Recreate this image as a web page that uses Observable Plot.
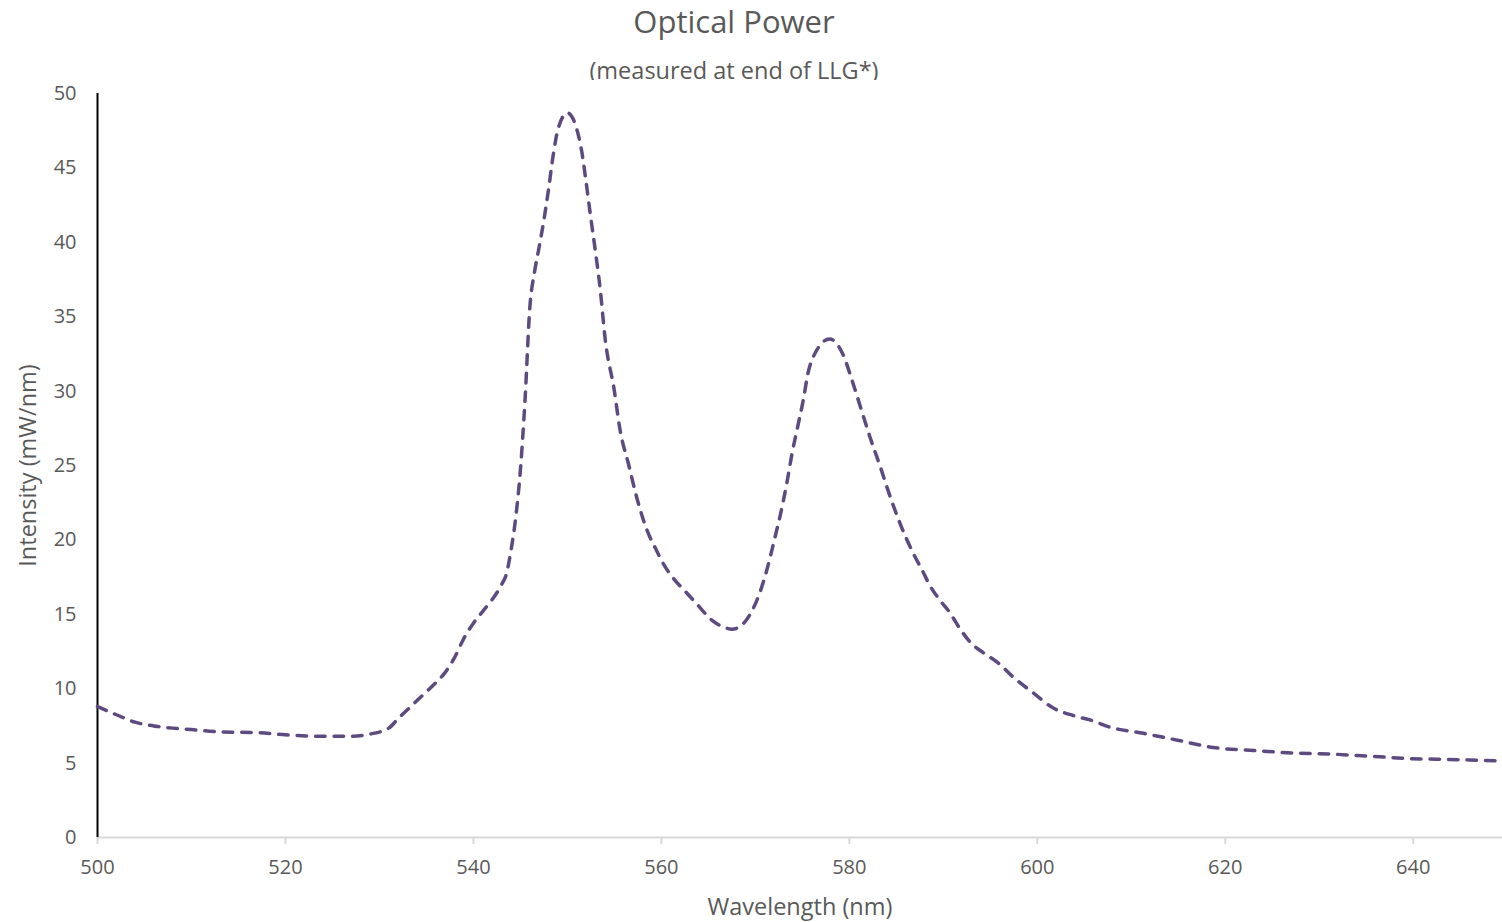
<!DOCTYPE html>
<html>
<head>
<meta charset="utf-8">
<script src="https://cdn.jsdelivr.net/npm/d3@7"></script>
<script src="https://cdn.jsdelivr.net/npm/@observablehq/plot@0.6"></script>
<style>
  html, body { margin: 0; padding: 0; background: #fff; }
  #wrap { position: relative; width: 1502px; height: 922px; font-family: "Open Sans", sans-serif; color: #595959; }
  #title { position: absolute; left: 0; width: 1468px; top: -1px; text-align: center; font-size: 31px; line-height: 44px; }
  #subtitle { position: absolute; left: 0; width: 1468px; top: 53px; text-align: center; font-size: 23.5px; line-height: 34px; }
  #chart { position: absolute; left: 0; top: 80px; }
</style>
</head>
<body>
<div id="wrap">
  <div id="title">Optical Power</div>
  <div id="subtitle">(measured at end of LLG*)</div>
  <div id="chart"></div>
</div>
<script>
const wavelength = [500,502,504,506,508,510,513,517,520,524,527,529,531,532,533,534,535,536,537,538,539,540,541,542,543,543.5,544,544.5,545,545.5,546,546.5,547,547.5,548,548.5,549,550,551,551.5,552,552.5,553,553.5,554,555,555.6,556.5,557.4,558.5,559.4,560.2,561.3,562.6,563.9,565.2,566.8,567.5,568.4,569.7,570.5,571.1,571.6,572.1,572.7,573.4,573.9,574.5,575.1,575.6,576.4,577.9,579.3,580.3,581.2,582.2,583.3,584.4,585.4,586.8,587.8,588.6,589.7,590.7,591.8,592.9,594.3,595.9,597.4,599.6,601.7,603.8,605.6,607.8,611.3,615.2,618.7,623,626.6,631.5,635.7,639.7,643.6,649.5];
const intensity = [8.8,8.25,7.75,7.5,7.35,7.25,7.1,7.05,6.9,6.8,6.8,6.95,7.35,8.0,8.6,9.2,9.8,10.4,11.1,12.1,13.4,14.4,15.2,16.0,17.0,17.7,19.3,21.5,24.7,29.5,35.6,38.0,39.7,41.5,43.6,45.9,47.6,48.7,47.6,46.2,44.0,41.6,39.3,36.8,33.6,30.0,27.4,25.1,22.8,20.6,19.4,18.4,17.4,16.5,15.6,14.7,14.1,14.0,14.2,15.3,16.5,17.7,18.9,20.2,21.8,24.0,25.8,27.6,29.4,31.2,32.6,33.5,32.5,30.7,28.9,26.9,24.9,22.8,21.1,19.1,17.9,16.9,15.9,15.1,14.0,13.1,12.4,11.7,10.8,9.7,8.7,8.2,7.9,7.4,7.0,6.5,6.05,5.85,5.7,5.6,5.45,5.3,5.25,5.15];
const xTicks = [500,520,540,560,580,600,620,640];
const yTicks = [0,5,10,15,20,25,30,35,40,45,50];
const xDomain = [500, 649.5];
const yDomain = [0, 50];
const xLabel = "Wavelength (nm)";
const yLabel = "Intensity (mW/nm)";

const data = wavelength.map((w, i) => ({w, v: intensity[i]}));

const chart = Plot.plot({
  width: 1502,
  height: 842,
  marginTop: 13,
  marginBottom: 85,
  marginLeft: 97,
  marginRight: 0,
  style: { fontFamily: "'Open Sans', sans-serif", fontSize: "20px", color: "#595959", background: "#fff", overflow: "visible" },
  x: { domain: xDomain },
  y: { domain: yDomain },
  marks: [
    Plot.ruleY([yDomain[0]], { stroke: "#d9d9d9", strokeWidth: 2 }),
    Plot.ruleX([xDomain[0]], { stroke: "#000", strokeWidth: 2 }),
    Plot.axisX(xTicks, { tickSize: 7, tickPadding: 15, stroke: "#d9d9d9", strokeWidth: 2, fill: "#595959", fontSize: 20, label: null }),
    Plot.axisY(yTicks, { tickSize: 0, tickPadding: 21, fill: "#595959", fontSize: 20, label: null }),
    Plot.line(data, { x: "w", y: "v", stroke: "#5d4a80", strokeWidth: 3.5, strokeDasharray: "9.5,9", strokeLinecap: "round", curve: "monotone-x" }),
    Plot.text([xLabel], { frameAnchor: "bottom", dy: 77, fill: "#595959", fontSize: 23.5, textAnchor: "middle" }),
    Plot.text([yLabel], { frameAnchor: "left", dx: -69, rotate: -90, fill: "#595959", fontSize: 23.5, textAnchor: "middle" })
  ]
});
document.getElementById("chart").appendChild(chart);
</script>
</body>
</html>
